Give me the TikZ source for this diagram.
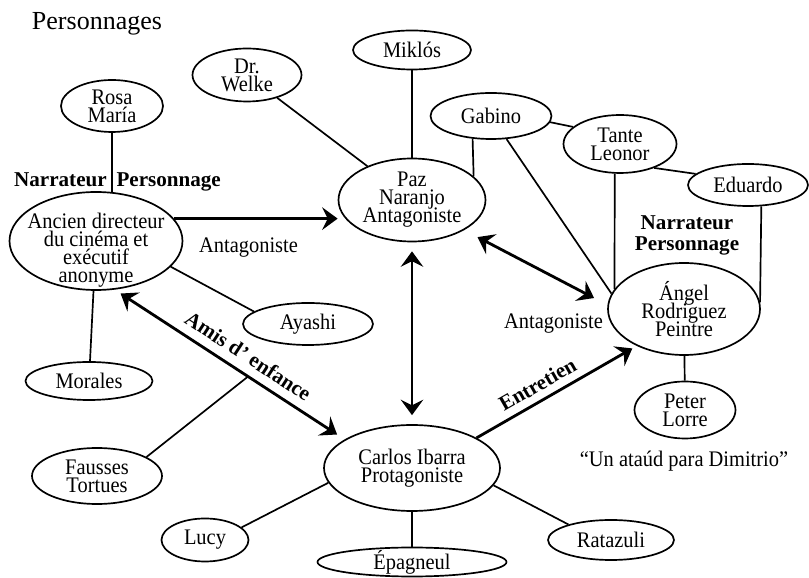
\documentclass[tikz,border=0pt]{standalone}
\usepackage{fontspec}
\setmainfont{Liberation Serif}[FakeStretch=0.92]
\newfontfamily\grasfont{Liberation Serif}
\newfontfamily\titrefont{Liberation Serif}
\usetikzlibrary{shapes.geometric,arrows.meta}
\def\corps{\fontsize{15.8}{12.8}\selectfont\lineskiplimit=-20pt\relax}
\tikzset{
	perso/.style 2 args={ellipse, draw, line width=1.2pt, inner sep=-60pt, align=center,
		minimum width=#1*0.025cm, minimum height=#2*0.025cm},
	lien/.style={line width=1.2pt},
	pointe/.tip={Stealth[length=11pt,width=16pt,inset=4pt]},
	fleche/.style={line width=2pt, -pointe},
	fleches/.style={line width=2pt, pointe-pointe},
	gras/.style={font=\grasfont\fontsize{15}{15}\selectfont\bfseries}
}

\begin{document}
\begin{tikzpicture}[x=0.025cm, y=0.025cm, every node/.style={font=\corps}]
		%%%%% START %%%%%
		\useasboundingbox (0, 0) rectangle (809, 578);
		\node[anchor=base west, font=\titrefont\fontsize{18.5}{20}\selectfont] (titre) at (27, 548) {Personnages};
		
		\node[perso={102}{52}] (rosa) at (112, 472) {Rosa\\María};
		\node[perso={109}{53}] (welke) at (247, 503) {Dr.\\Welke};
		\node[perso={118}{39}] (miklos) at (412, 528) {Miklós};
		\node[perso={121}{46}] (gabino) at (491, 462) {Gabino};
		\node[perso={113}{58}] (leonor) at (620, 434) {Tante\\Leonor};
		\node[perso={120}{42}] (eduardo) at (748, 393) {Eduardo};
		\node[perso={147}{83}] (paz) at (412, 378) {Paz\\Naranjo\\Antagoniste};
		\node[perso={173}{98}] (ancien) at (96, 337) {};
		\node[align=center] (ancientexte) at (96, 328) {Ancien directeur\\du cinéma et\\exécutif\\anonyme};
		\node[perso={130}{42}] (ayashi) at (308, 254) {Ayashi};
		\node[perso={127}{38}] (morales) at (89, 197) {Morales};
		\node[perso={130}{56}] (tortues) at (97, 102) {Fausses\\Tortues};
		\node[perso={87}{43}] (lucy) at (205, 38) {Lucy};
		\node[perso={176}{86}] (carlos) at (412, 110) {Carlos Ibarra\\Protagoniste};
		\node[perso={189}{29}] (epagneul) at (412, 16) {Épagneul};
		\node[perso={126}{40}] (ratazuli) at (611, 38) {Ratazuli};
		\node[perso={101}{57}] (lorre) at (685, 168) {Peter\\Lorre};
		\node[perso={152}{92}] (angel) at (684, 269) {Ángel\\Rodriguez\\Peintre};
		
		\node[gras] (narrgauche) at (117.5, 396) {Narrateur\hspace{7pt}Personnage};
		\node[gras, align=center] (narrdroite) at (687, 343) {Narrateur\\Personnage};
		\node (antaggauche) at (248.5, 330.5) {Antagoniste};
		\node (antagdroite) at (553.5, 254) {Antagoniste};
		\node (dimitrio) at (684, 117) {“Un ataúd para Dimitrio”};
		
		% fleches
		\draw[fleche] (ancien.16) -- (ancien.16 -| paz.west);
		\draw[fleches, shorten <=6.4pt, shorten >=6.4pt] (paz) -- (carlos);
		\draw[fleches, shorten <=10.7pt, shorten >=10.7pt] (paz.-30) -- (angel.177);
		\draw[fleches, shorten <=5pt, shorten >=6.4pt] (ancien.-69.5) -- coordinate[pos=.58] (amis)
			node[gras, sloped, above=2.7pt, pos=.54] (amislabel) {Amis d’ enfance} (carlos.157);
		\draw[fleche, shorten >=3.6pt] (carlos.25) --
			node[gras, sloped, above=1.8pt, pos=.43] (entretien) {Entretien} (angel.-142);
		
		% liens
		\draw[lien] (rosa) -- (ancien.72);
		\draw[lien] (welke) -- (paz);
		\draw[lien, line width=1.8pt] (miklos) -- (paz);
		\draw[lien] (gabino.-129) -- (paz.21);
		\draw[lien] (gabino.-56) -- (angel.168);
		\draw[lien] (gabino.-6) -- (leonor.160);
		\draw[lien] (leonor.-100) -- (angel.164);
		\draw[lien] (leonor.-35) -- (eduardo.168);
		\draw[lien] (eduardo.-58) -- (angel.5);
		\draw[lien] (angel) -- (lorre);
		\draw[lien] (ancien.-19) -- (ayashi.167);
		\draw[lien] (ancien) -- (morales);
		\draw[lien] (tortues.21) -- (amis);
		\draw[lien] (lucy.19) -- (carlos.190);
		\draw[lien] (carlos) -- (epagneul);
		\draw[lien] (carlos.-12) -- (ratazuli.160);
		%%%%% END %%%%%
	\end{tikzpicture}
\end{document}
